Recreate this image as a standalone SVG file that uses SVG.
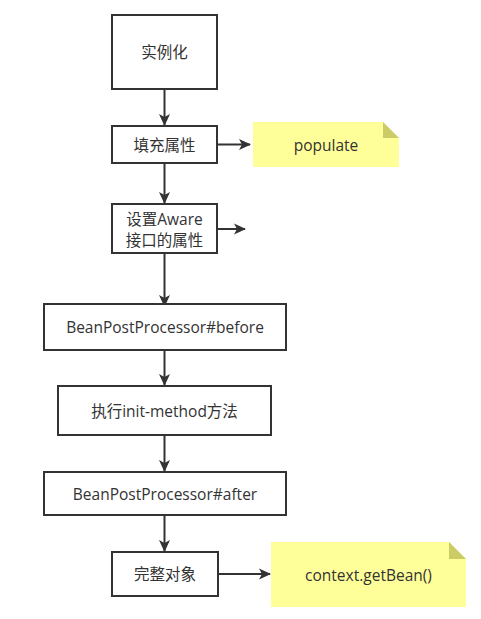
<svg xmlns="http://www.w3.org/2000/svg" width="481" height="619" viewBox="0 0 481 619">
<defs>
<marker id="ah" markerWidth="12" markerHeight="12" refX="11" refY="6" orient="auto" markerUnits="userSpaceOnUse">
<path d="M0,0.5 L12,6 L0,11.5 L3,6 Z" fill="#333"/>
</marker>
</defs>
<style>
.box{fill:#fff;stroke:#333;stroke-width:2}
.note{fill:#ffff99;stroke:none}
.fold{fill:#cccc66}
.t{font-family:"Open Sans","Noto Sans","Noto Sans CJK SC",sans-serif;font-size:15.5px;fill:#333;text-anchor:middle;dominant-baseline:central}
.c{stroke:#333;stroke-width:2;fill:none;marker-end:url(#ah)}
</style>
<rect width="481" height="619" fill="#fff"/>
<g id="connectors">
<line class="c" x1="164.5" y1="89" x2="164.5" y2="125"/>
<line class="c" x1="217" y1="144.5" x2="250" y2="144.5"/>
<line class="c" x1="164.5" y1="163" x2="164.5" y2="203"/>
<line class="c" x1="217" y1="229" x2="245" y2="229"/>
<line class="c" x1="164.5" y1="253" x2="164.5" y2="306"/>
<line class="c" x1="164.5" y1="350" x2="164.5" y2="385"/>
<line class="c" x1="164.5" y1="435" x2="164.5" y2="471"/>
<line class="c" x1="164.5" y1="515" x2="164.5" y2="551"/>
<line class="c" x1="218" y1="574" x2="270" y2="574"/>
</g>
<g id="n1"><rect class="box" x="112" y="15" width="105" height="74"/><text class="t" x="164.5" y="52">实例化</text></g>
<g id="n2"><rect class="box" x="112" y="126" width="105" height="37"/><text class="t" x="164.5" y="144.5">填充属性</text></g>
<g id="note1"><path class="note" d="M253,122 H383 L399,138 V167 H253 Z"/><path class="fold" d="M383,122 L399,138 H383 Z"/><text class="t" x="326" y="144.5">populate</text></g>
<g id="n3"><rect class="box" x="112" y="204" width="105" height="49"/><text class="t" x="164.5" y="218.5">设置Aware</text><text class="t" x="164.5" y="239.5">接口的属性</text></g>
<g id="n4"><rect class="box" x="44" y="304" width="242" height="46"/><text class="t" x="165" y="327">BeanPostProcessor#before</text></g>
<g id="n5"><rect class="box" x="58" y="386" width="213" height="49"/><text class="t" x="164.5" y="410.5">执行init-method方法</text></g>
<g id="n6"><rect class="box" x="44" y="472" width="242" height="43"/><text class="t" x="165" y="493.5">BeanPostProcessor#after</text></g>
<g id="n7"><rect class="box" x="112" y="552" width="106" height="44"/><text class="t" x="165" y="574">完整对象</text></g>
<g id="note2"><path class="note" d="M271,542 H449 L466,559 V607 H271 Z"/><path class="fold" d="M449,542 L466,559 H449 Z"/><text class="t" x="368.5" y="574.5">context.getBean()</text></g>
</svg>
